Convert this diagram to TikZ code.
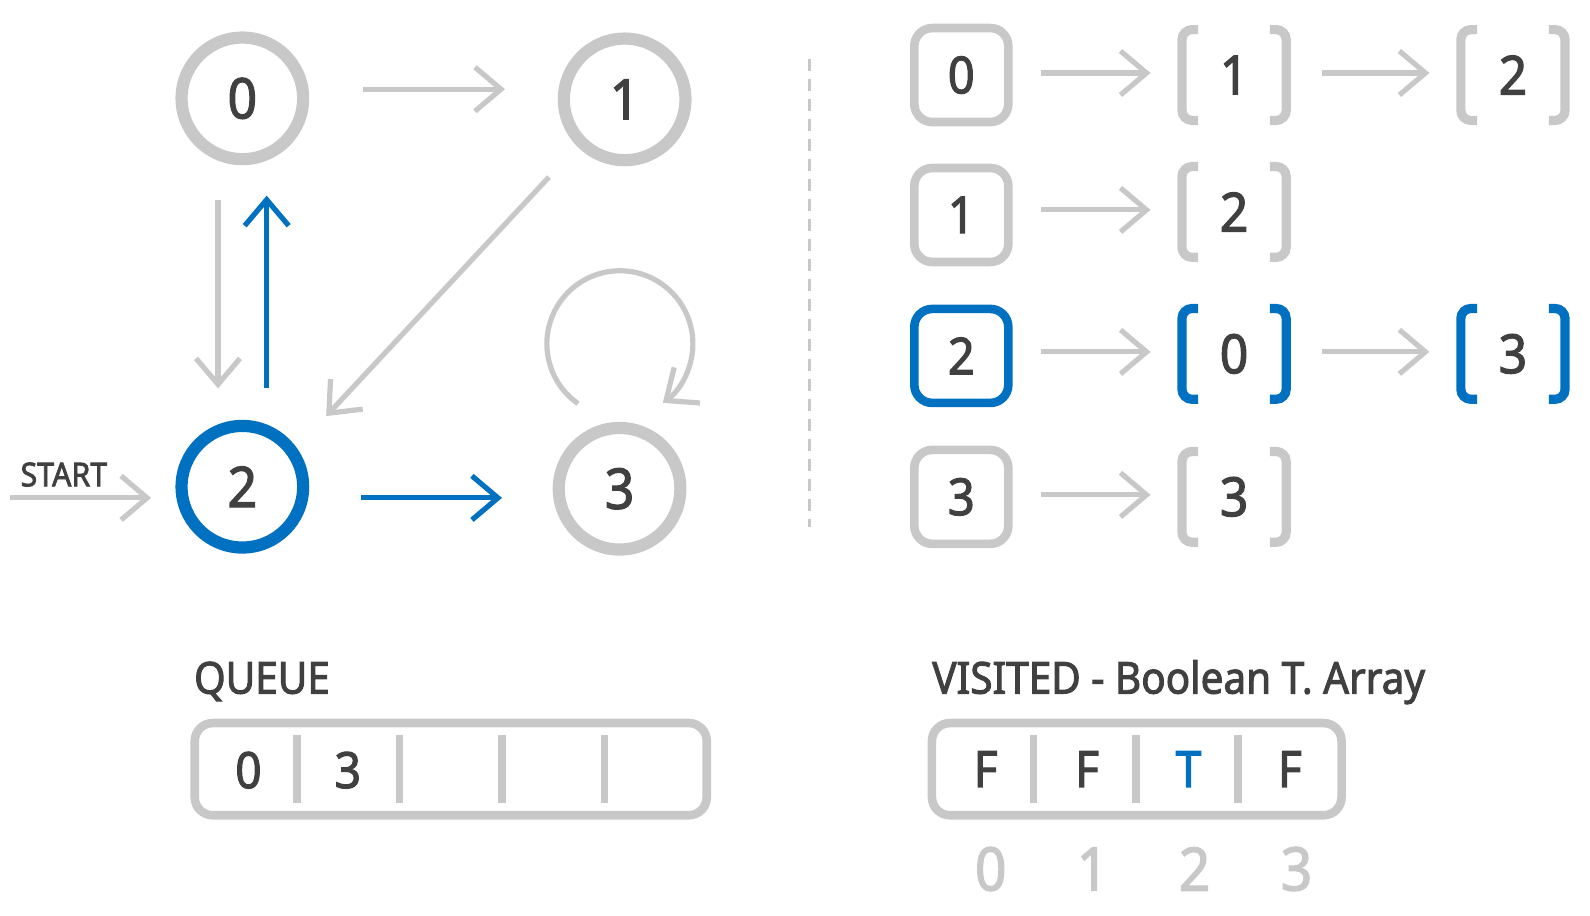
\documentclass[tikz,border=0pt]{standalone}
\usepackage{fontspec}
\setmainfont{Noto Sans}[FakeStretch=0.92, BoldFont={Noto Sans}, BoldFeatures={FakeBold=2.2}]
\usetikzlibrary{arrows.meta,calc}
\definecolor{lgray}{HTML}{C8C8C8}
\definecolor{mblue}{HTML}{0070C0}
\definecolor{ink}{HTML}{404040}

\begin{document}
\begin{tikzpicture}[x=0.507pt, y=-0.507pt, text=ink, font=\bfseries,
    main/.style = {draw=lgray, circle, line width=6.1pt, minimum size=60.8pt, inner sep=0pt, font=\bfseries\fontsize{28}{30}\selectfont},
    head/.style = {draw=lgray, rounded corners=9pt, line width=4.3pt, minimum size=47pt, inner sep=0pt, font=\bfseries\fontsize{25.5}{28}\selectfont},
    item/.style = {minimum width=51.7pt, minimum height=45pt, inner sep=0pt, font=\bfseries\fontsize{27}{30}\selectfont},
    bracket/.style = {line width=4.6pt, rounded corners=5pt},
    arr/.style = {line width=2.6pt, draw=lgray, -{Straight Barb[length=13pt, width=22pt]}},
    box/.style = {draw=lgray, rounded corners=9pt, line width=4.3pt, minimum height=46.1pt, inner sep=0pt, outer sep=0pt},
    divider/.style = {draw=lgray, line width=3.8pt},
    cellval/.style = {inner sep=0pt, font=\bfseries\fontsize{25}{28}\selectfont},
    title/.style = {anchor=base west, inner sep=0pt, font=\bfseries\fontsize{22}{24}\selectfont}]
    \useasboundingbox (0,0) rectangle (1568,903);

    % graph
    \node[main] (c0) at (239,97) {0};
    \node[main] (c1) at (616,98) {1};
    \node[main, draw=mblue] (c2) at (239,480) {2};
    \node[main] (c3) at (611,482) {3};
    \coordinate (start) at ($(c2.west)+(-163,11)$);
    \node[font=\bfseries\fontsize{16.5}{18}\selectfont] (startlbl) at (63,468) {START};
    \draw[arr] (start) -- ($(c2.west)+(-24,11)$);
    \draw[arr] ($(c0.east)+(53,-9)$) -- ($(c1.west)+(-52,-10)$);
    \draw[arr] ($(c0.south)+(-24,34)$) -- ($(c2.north)+(-24,-31)$);
    \draw[arr, draw=mblue] ($(c2.north)+(24,-31)$) -- ($(c0.south)+(24,30)$);
    \draw[arr] ($(c1.225)+(-28,30)$) -- ($(c2.45)+(36,-23)$);
    \draw[arr, draw=mblue] ($(c2.east)+(51,11)$) -- ($(c3.west)+(-50,9)$);
    \draw[arr] ($(c3.center)+(-41,-84)$) arc[start angle=-235, end angle=54, radius=72];

    \draw[lgray, line width=1.5pt, dash pattern=on 6pt off 4pt] (798,58) -- (798,520);

    % adjacency list
    \node[head] (h0) at (948,74) {0};
    \node[head] (h1) at (948,212) {1};
    \node[head, draw=mblue] (h2) at (948,351) {2};
    \node[head] (h3) at (948,490) {3};
    \node[item] (l01) at (1217,74) {1};
    \node[item] (l02) at (1492,74) {2};
    \node[item] (l12) at (1217,209) {2};
    \node[item] (l20) at (1217,349) {0};
    \node[item] (l23) at (1492,349) {3};
    \node[item] (l33) at (1217,490) {3};
    \foreach \a/\b/\s in {h0/l01/28, l01/l02/35, h1/l12/28, h2/l20/28, l20/l23/35, h3/l33/28}
        \draw[arr] ($(\a.east |- \b.west)+(\s,-2)$) -- ($(\b.west)+(-31,-2)$);
    \foreach \n/\c in {l01/lgray, l02/lgray, l12/lgray, l20/mblue, l23/mblue, l33/lgray}
        \draw[bracket, draw=\c] ($(\n.north west)+(16,0)$) -- (\n.north west) -- (\n.south west) -- ($(\n.south west)+(16,0)$)
            ($(\n.north east)+(-16,0)$) -- (\n.north east) -- (\n.south east) -- ($(\n.south east)+(-16,0)$);

    % queue
    \node[title] (qlbl) at (191,684) {QUEUE};
    \node[box, minimum width=256pt] (queue) at (444.5,758.5) {};
    \foreach \i in {1,...,4}
        \draw[divider] ($(queue.north west)+(101*\i,12)$) -- ($(queue.south west)+(101*\i,-12)$);
    \node[cellval] (q0) at ($(queue.west)+(53,1)$) {0};
    \node[cellval] (q1) at ($(queue.west)+(151,1)$) {3};

    % visited
    \node[title] (vlbl) at (919,684) {VISITED - Boolean T. Array};
    \node[box, minimum width=204.8pt] (visited) at (1121,758.5) {};
    \foreach \i in {1,...,3}
        \draw[divider] ($(visited.north west)+(101*\i-1,12)$) -- ($(visited.south west)+(101*\i-1,-12)$);
    \foreach \v/\c [count=\i from 0] in {F/ink, F/ink, T/mblue, F/ink} {
        \node[cellval, text=\c] (v\i) at ($(visited.west)+(53+100*\i,0)$) {\v};
        \node[inner sep=0pt, text=lgray, font=\bfseries\fontsize{30}{32}\selectfont] (n\i) at ($(visited.west)+(58+100.5*\i,98.5)$) {\i};
    }
\end{tikzpicture}
\end{document}
